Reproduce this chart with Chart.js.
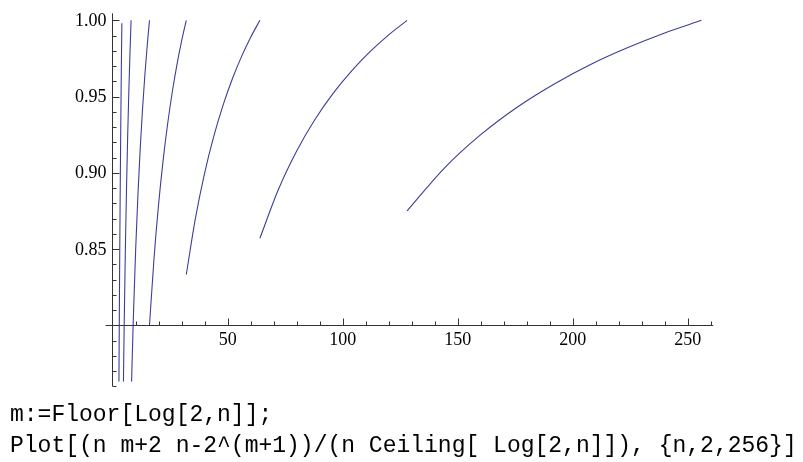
<!DOCTYPE html>
<html lang="en">

<head>
    <meta charset="UTF-8">
    <title>Plot</title>
    <script src="https://cdn.jsdelivr.net/npm/chart.js"></script>
    <style>
        body {
            margin: 0;
            background-color: white;
        }

        #plot {
            position: absolute;
            left: 0;
            top: 0;
        }

        .code {
            position: absolute;
            left: 10px;
            margin: 0;
            font-family: "Liberation Mono", monospace;
            font-size: 23px;
            line-height: 23px;
            white-space: pre;
            color: black;
        }
    </style>
</head>

<body>
    <canvas id="plot" width="803" height="462"></canvas>
    <p class="code" id="line1" style="top: 404px;">m:=Floor[Log[2,n]];</p>
    <p class="code" id="line2" style="top: 434.5px;">Plot[(n m+2 n-2^(m+1))/(n Ceiling[ Log[2,n]]), {n,2,256}]</p>

    <script>
        // one piece of the curve for each interval 2^k < n <= 2^(k+1)
        const seg1N = [2.714, 3, 3.25, 3.5, 3.75, 3.99];
        const seg1Y = [0.763, 0.8333, 0.8846, 0.9286, 0.9667, 0.998];
        const seg2N = [4.676, 5, 5.5, 6, 6.5, 7, 7.5, 8];
        const seg2Y = [0.763, 0.8, 0.8485, 0.8889, 0.9231, 0.9524, 0.9778, 1.0];
        const seg3N = [8.214, 9, 10, 11, 12, 13, 14, 15, 16];
        const seg3Y = [0.763, 0.8056, 0.85, 0.8864, 0.9167, 0.9423, 0.9643, 0.9833, 1.0];
        const seg4N = [16, 18, 20, 22, 24, 26, 28, 30, 32];
        const seg4Y = [0.8, 0.8444, 0.88, 0.9091, 0.9333, 0.9538, 0.9714, 0.9867, 1.0];
        const seg5N = [32, 36, 40, 44, 48, 52, 56, 60, 64];
        const seg5Y = [0.8333, 0.8704, 0.9, 0.9242, 0.9444, 0.9615, 0.9762, 0.9889, 1.0];
        const seg6N = [64, 72, 80, 88, 96, 104, 112, 120, 128];
        const seg6Y = [0.8571, 0.8889, 0.9143, 0.9351, 0.9524, 0.967, 0.9796, 0.9905, 1.0];
        const seg7N = [128, 144, 160, 176, 192, 208, 224, 240, 256];
        const seg7Y = [0.875, 0.9028, 0.925, 0.9432, 0.9583, 0.9712, 0.9821, 0.9917, 1.0];

        const xMajorTicks = [50, 100, 150, 200, 250];
        const xTickLabels = ['50', '100', '150', '200', '250'];
        const xMinorTicks = [10, 20, 30, 40, 60, 70, 80, 90, 110, 120, 130, 140, 160, 170, 180, 190, 210, 220, 230, 240, 260];
        const yMajorTicks = [0.85, 0.90, 0.95, 1.00];
        const yTickLabels = ['0.85', '0.90', '0.95', '1.00'];
        const yMinorTicks = [0.76, 0.77, 0.78, 0.79, 0.81, 0.82, 0.83, 0.84, 0.86, 0.87, 0.88, 0.89,
            0.91, 0.92, 0.93, 0.94, 0.96, 0.97, 0.98, 0.99];

        const lineColor = 'rgb(61, 61, 153)';

        function toPoints(ns, ys) {
            return ns.map((n, i) => ({ x: n, y: ys[i] }));
        }

        const segments = [
            [seg1N, seg1Y], [seg2N, seg2Y], [seg3N, seg3Y], [seg4N, seg4Y],
            [seg5N, seg5Y], [seg6N, seg6Y], [seg7N, seg7Y]
        ];

        // Mathematica style axes: crossing at (0, 0.8), ticks pointing inwards
        const axesPlugin = {
            id: 'axes',
            afterDatasetsDraw(chart) {
                const ctx = chart.ctx;
                const xs = chart.scales.x;
                const ys = chart.scales.y;
                const ax = Math.floor(xs.getPixelForValue(0)) + 0.5;
                const ay = Math.floor(ys.getPixelForValue(0.8)) + 0.5;

                ctx.save();
                ctx.strokeStyle = '#333';
                ctx.lineWidth = 1;
                ctx.beginPath();
                ctx.moveTo(xs.getPixelForValue(-3.08), ay);
                ctx.lineTo(xs.getPixelForValue(261.08), ay);
                ctx.moveTo(ax, ys.getPixelForValue(0.76));
                ctx.lineTo(ax, ys.getPixelForValue(1.0046));

                xMinorTicks.forEach(v => {
                    const px = Math.round(xs.getPixelForValue(v)) + 0.5;
                    ctx.moveTo(px, ay);
                    ctx.lineTo(px, ay - 4);
                });
                xMajorTicks.forEach(v => {
                    const px = Math.round(xs.getPixelForValue(v)) + 0.5;
                    ctx.moveTo(px, ay);
                    ctx.lineTo(px, ay - 7);
                });
                yMinorTicks.forEach(v => {
                    const py = Math.round(ys.getPixelForValue(v)) + 0.5;
                    ctx.moveTo(ax, py);
                    ctx.lineTo(ax + 4, py);
                });
                yMajorTicks.forEach(v => {
                    const py = Math.round(ys.getPixelForValue(v)) + 0.5;
                    ctx.moveTo(ax, py);
                    ctx.lineTo(ax + 7, py);
                });
                ctx.stroke();

                ctx.fillStyle = 'black';
                ctx.font = '18px "Liberation Serif", serif';
                ctx.textBaseline = 'alphabetic';
                ctx.textAlign = 'center';
                xMajorTicks.forEach((v, i) => {
                    ctx.fillText(xTickLabels[i], xs.getPixelForValue(v), ay + 19.5);
                });
                ctx.textAlign = 'right';
                yMajorTicks.forEach((v, i) => {
                    ctx.fillText(yTickLabels[i], ax - 6, ys.getPixelForValue(v) + 5.5);
                });
                ctx.restore();
            }
        };

        new Chart(document.getElementById('plot').getContext('2d'), {
            type: 'scatter',
            data: {
                datasets: segments.map(s => ({
                    data: toPoints(s[0], s[1]),
                    showLine: true,
                    borderColor: lineColor,
                    borderWidth: 1.1,
                    pointRadius: 0,
                    cubicInterpolationMode: 'monotone',
                    fill: false
                }))
            },
            options: {
                responsive: false,
                animation: false,
                layout: {
                    padding: { left: 105.6, right: 89.8, top: 13.3, bottom: 80.3 }
                },
                plugins: {
                    legend: { display: false },
                    tooltip: { enabled: false }
                },
                scales: {
                    x: { type: 'linear', min: -3.08, max: 261.08, display: false },
                    y: { type: 'linear', min: 0.763, max: 1.0046, display: false }
                }
            },
            plugins: [axesPlugin]
        });
    </script>
</body>

</html>
